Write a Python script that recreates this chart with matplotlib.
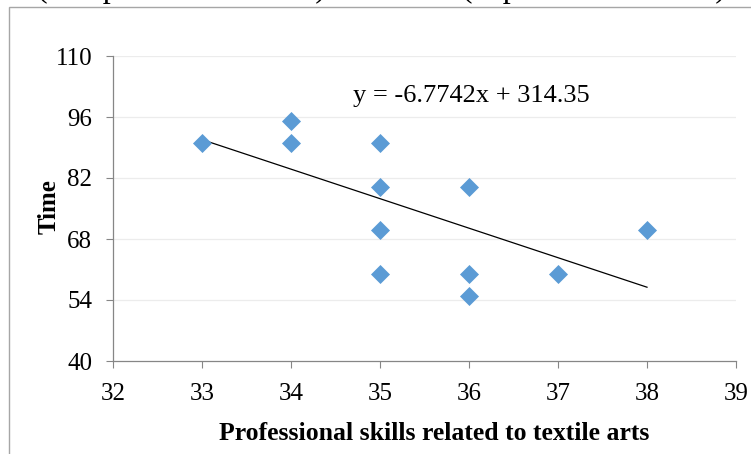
import matplotlib
matplotlib.use("Agg")
import matplotlib.pyplot as plt
import numpy as np
from matplotlib.patches import Rectangle

# data
skills = [33, 34, 34, 35, 35, 35, 35, 36, 36, 36, 37, 38]
times = [90, 95, 90, 90, 80, 70, 60, 80, 60, 55, 60, 70]

x_ticks = [32, 33, 34, 35, 36, 37, 38, 39]
y_ticks = [40, 54, 68, 82, 96, 110]

plt.rcParams['font.family'] = ['Liberation Serif', 'DejaVu Serif']

W, H = 751, 454
fig = plt.figure(figsize=(W / 100, H / 100), dpi=100)
ax = fig.add_axes([113 / W, 1 - 361 / H, (736 - 113) / W, (361 - 56) / H])

# chart area border (only left and top visible)
fig.patches.append(Rectangle((8.5 / W, -0.2), 1.2, 1.2 - 7 / H,
                             transform=fig.transFigure, fill=False,
                             edgecolor='#a6a6a6', lw=1.0, clip_on=False))

# cut-off caption line at top
fig.text(37 / W, 1 + 3 / H, "(independent variable) and Time (dependent variable).",
         fontsize=23, va='baseline', ha='left', color='black')

ax.scatter(skills, times, marker='D', s=9.7 ** 2, color='#5B9BD5', zorder=3,
           linewidths=0)

# linear trendline
slope, intercept = np.polyfit(skills, times, 1)
xs = np.array([min(skills), max(skills)])
ax.plot(xs, slope * xs + intercept, color='black', lw=0.9, zorder=2)
ax.text(36.03, 100.8, f"y = {slope:.4f}x + {intercept:.2f}", fontsize=19,
        ha='center', va='center')

ax.set_xlim(32, 39)
ax.set_ylim(40, 110)
ax.set_xticks(x_ticks)
ax.set_yticks(y_ticks)
ax.tick_params(axis='both', labelsize=18, length=5, width=0.8, color='#868686',
               direction='out')
ax.tick_params(axis='y', pad=10)
ax.tick_params(axis='x', pad=11)

for g in y_ticks[1:]:
    ax.axhline(g, color='#ececec', lw=0.9, zorder=1)

for s in ['top', 'right']:
    ax.spines[s].set_visible(False)
for s in ['left', 'bottom']:
    ax.spines[s].set_color('#868686')
    ax.spines[s].set_linewidth(0.9)

fig.text(434 / W, 1 - 433 / H, "Professional skills related to textile arts",
         fontsize=18.5, fontweight='bold', ha='center', va='center')
fig.text(49 / W, 1 - 207 / H, "Time", fontsize=18, fontweight='bold',
         ha='center', va='center', rotation=90)

fig.savefig("out.png", dpi=100)
